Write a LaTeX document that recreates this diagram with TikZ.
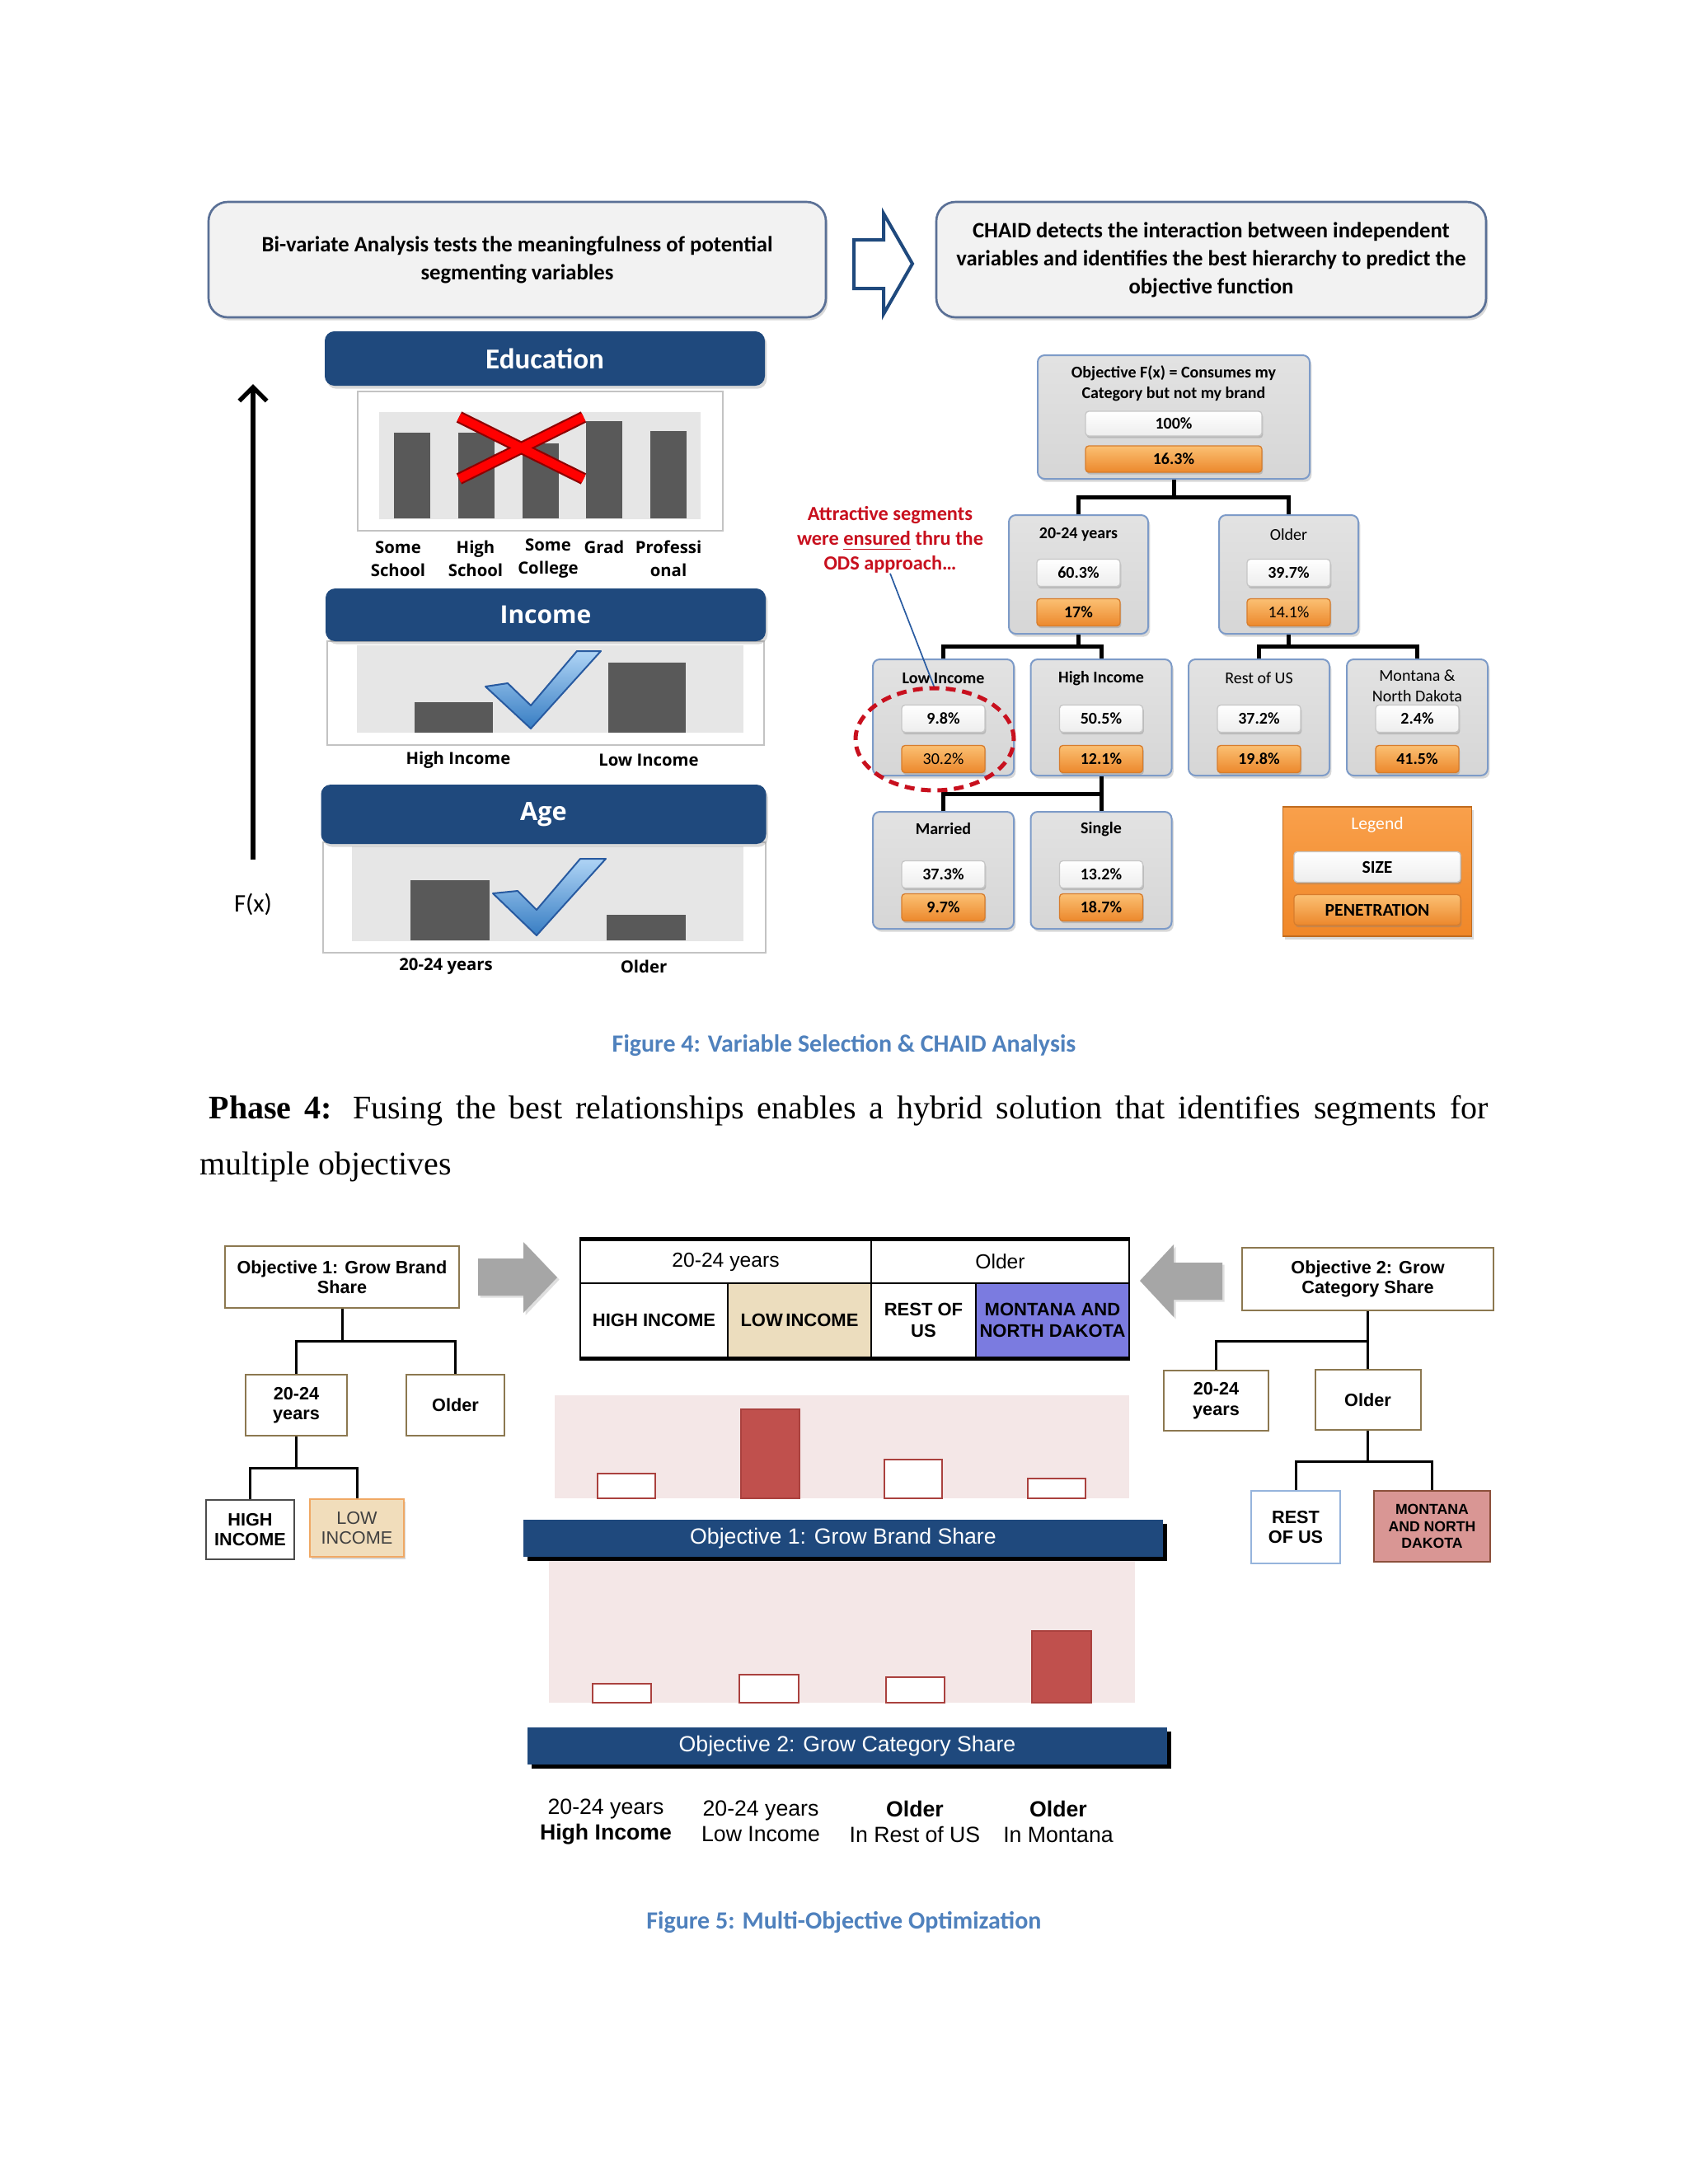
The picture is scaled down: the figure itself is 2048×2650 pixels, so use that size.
\documentclass[tikz,border=0pt]{standalone}
\usepackage{fontspec}
\setmainfont{Liberation Serif}
\newfontfamily\calibri{Carlito}
\newfontfamily\arialf{Liberation Sans}
\newfontfamily\osans{Open Sans}
\usetikzlibrary{shadows,arrows.meta,calc}
\definecolor{boxbg}{RGB}{242,242,242}
\definecolor{boxbd}{RGB}{90,112,150}
\definecolor{hdrblue}{RGB}{31,73,125}
\definecolor{barg}{RGB}{89,89,89}
\definecolor{chartbg}{RGB}{230,230,230}
\definecolor{framegray}{RGB}{195,195,195}
\definecolor{tgray}{RGB}{214,214,214}
\definecolor{tbd}{RGB}{125,155,200}
\definecolor{orl}{RGB}{251,192,115}
\definecolor{ord}{RGB}{236,136,44}
\definecolor{orbd}{RGB}{215,125,45}
\definecolor{legl}{RGB}{249,160,75}
\definecolor{legd}{RGB}{240,135,40}
\definecolor{annred}{RGB}{200,16,30}
\definecolor{capblue}{RGB}{79,129,189}
\definecolor{tanfill}{RGB}{236,221,190}
\definecolor{purp}{RGB}{123,123,224}
\definecolor{lowfill}{RGB}{241,221,187}
\definecolor{lowbd}{RGB}{240,168,100}
\definecolor{mtfill}{RGB}{217,150,148}
\definecolor{mtbd}{RGB}{140,80,60}
\definecolor{restbd}{RGB}{150,180,220}
\definecolor{objbd}{RGB}{140,120,80}
\definecolor{pinkbg}{RGB}{244,231,231}
\definecolor{redbar}{RGB}{192,80,77}
\definecolor{redbd}{RGB}{170,65,62}
\definecolor{arrgray}{RGB}{166,166,166}
\definecolor{chkl}{RGB}{175,212,245}
\definecolor{chkd}{RGB}{55,125,195}
\definecolor{chkbd}{RGB}{40,90,160}
\begin{document}
\begin{tikzpicture}[x=0.3pt,y=-0.3pt,
  sz/.style 2 args={minimum width=#1*0.3pt,minimum height=#2*0.3pt},
  softshadow/.style={drop shadow={shadow xshift=0.7pt,shadow yshift=-1.1pt,opacity=0.3}},
  topbox/.style={rounded corners=7pt,draw=boxbd,line width=0.8pt,fill=boxbg,align=center,inner sep=0pt,
    font=\calibri\bfseries\fontsize{8}{10.2}\selectfont,softshadow},
  hdr/.style={rounded corners=3.5pt,fill=hdrblue,text=white,inner sep=0pt,softshadow},
  lab/.style={font=\osans\bfseries\fontsize{6.1}{8.4}\selectfont,align=center,inner sep=0pt},
  tbox/.style={rounded corners=2.5pt,draw=tbd,line width=0.6pt,top color=tgray!70!white,bottom color=tgray,inner sep=0pt,softshadow},
  ttl/.style={font=\calibri\bfseries\fontsize{6}{7.5}\selectfont,align=center,inner sep=0pt},
  pillw/.style={rounded corners=1.2pt,draw=gray!45,top color=white,bottom color=gray!14,inner sep=0pt,
    font=\calibri\bfseries\fontsize{6}{7}\selectfont,drop shadow={shadow xshift=0.4pt,shadow yshift=-0.8pt,opacity=0.35}},
  pillo/.style={rounded corners=1.2pt,draw=orbd,top color=orl,bottom color=ord,inner sep=0pt,
    font=\calibri\bfseries\fontsize{6}{7}\selectfont,drop shadow={shadow xshift=0.4pt,shadow yshift=-0.8pt,opacity=0.35}},
  tline/.style={line width=1.5pt,black},
  bline/.style={line width=0.9pt,black},
  obox/.style={draw=objbd,line width=0.6pt,fill=white,align=center,inner sep=0pt,font=\arialf\bfseries\fontsize{6.5}{7.3}\selectfont},
  banner/.style={fill=hdrblue,text=white,inner sep=0pt,font=\arialf\fontsize{8}{9}\selectfont,
    drop shadow={shadow xshift=1.5pt,shadow yshift=-1.5pt,opacity=1,fill=black}},
  cell/.style={draw=black,line width=0.8pt,inner sep=0pt,align=center,font=\arialf\bfseries\fontsize{6.6}{7.6}\selectfont},
  clab/.style={font=\arialf\fontsize{8}{9.3}\selectfont,align=center,inner sep=0pt},
  figcap/.style={font=\calibri\bfseries\fontsize{9}{11}\selectfont,text=capblue,inner sep=0pt}]
\useasboundingbox (0,0) rectangle (2048,2650);
\fill[white] (0,0) rectangle (2048,2650);

% ---------------- Figure 4: top boxes ----------------
\node[topbox,sz={749}{140}] (bivar) at (627.5,315) {Bi-variate Analysis tests the meaningfulness of potential\\segmenting variables};
\node[topbox,sz={667}{140}] (chaid) at (1469.5,315) {CHAID detects the interaction between independent\\variables and identifies the best hierarchy to predict the\\objective function};
\draw[line width=1.2pt,draw=hdrblue,fill=white,line join=miter]
  (1036,291) -- (1072,291) -- (1072,259) -- (1107,320) -- (1072,381) -- (1072,350) -- (1036,350) -- cycle;

% ---------------- F(x) axis ----------------
\coordinate (axbot) at (307,1043);
\coordinate (axtop) at (307,466);
\draw[line width=1.6pt,-{Straight Barb[length=5pt,width=10pt]}] (axbot) -- (axtop);
\node[font=\calibri\fontsize{9.2}{11}\selectfont,inner sep=0pt] (fx) at (307,1097) {F(x)};

% ---------------- Education ----------------
\draw[framegray,fill=white,line width=0.5pt] (434,475) rectangle (877,644);
\fill[chartbg] (460,500) rectangle (850,630);
\foreach \cx/\ty in {500/525,578/525,656/538,733/511,811/523}
  \fill[barg] (\cx-22,\ty) rectangle (\cx+22,629);
\draw[line width=4.4pt,red!55!black] (557,506) -- (708,581) (557,581) -- (708,506);
\draw[line width=3.1pt,red] (557,506) -- (708,581) (557,581) -- (708,506);
\node[hdr,sz={534}{66},font=\calibri\bfseries\fontsize{10.5}{12}\selectfont] (edu) at (661,435) {Education};
\node[lab] (e1) at (483,678) {Some\\School};
\node[lab] (e2) at (577,678) {High\\School};
\node[lab] (e3) at (665,678) {Some\\College};
\node[lab] (e4) at (733,664) {Grad};
\node[lab] (e5) at (811,678) {Professi\\onal};

% ---------------- Income ----------------
\draw[framegray,fill=white,line width=0.5pt] (397,778) rectangle (927,904);
\fill[chartbg] (433,783) rectangle (902,889);
\fill[barg] (503,852) rectangle (598,889);
\fill[barg] (738,804) rectangle (832,889);
\draw[top color=chkl,bottom color=chkd,draw=chkbd,line width=0.6pt,line join=round]
  (589,833) -- (616,829) -- (644,856) -- (700,790) -- (729,790) -- (644,884) -- cycle;
\node[hdr,sz={534}{64},font=\osans\bfseries\fontsize{9}{11}\selectfont] (inc) at (662,746) {Income};
\node[lab] (i1) at (556,922) {High Income};
\node[lab] (i2) at (787,922) {Low Income};

% ---------------- Age ----------------
\draw[framegray,fill=white,line width=0.5pt] (392,1022) rectangle (929,1156);
\fill[chartbg] (427,1027) rectangle (902,1142);
\fill[barg] (498,1068) rectangle (594,1141);
\fill[barg] (736,1110) rectangle (832,1141);
\draw[top color=chkl,bottom color=chkd,draw=chkbd,line width=0.6pt,line join=round]
  (598,1084) -- (628,1081) -- (651,1104) -- (704,1042) -- (735,1042) -- (651,1135) -- cycle;
\node[hdr,sz={540}{72},font=\osans\bfseries\fontsize{9.2}{11}\selectfont] (age) at (659.5,988) {Age};
\node[lab] (a1) at (541,1173) {20-24 years};
\node[lab] (a2) at (781,1173) {Older};

% ---------------- CHAID tree ----------------
\node[tbox,sz={330}{150}] (root) at (1424,506) {};
\node[ttl] (rootT) at (1424,465) {Objective F(x) = Consumes my\\Category but not my brand};
\node[pillw,sz={214}{30}] (rootS) at (1424,514) {100\%};
\node[pillo,sz={214}{32}] (rootP) at (1424,557) {16.3\%};

\node[tbox,sz={169}{144}] (yng) at (1308.5,697) {};
\node[ttl] (yngT) at (1308.5,649) {20-24 years};
\node[pillw,sz={101}{33}] (yngS) at (1308.5,695) {60.3\%};
\node[pillo,sz={101}{33}] (yngP) at (1308.5,743) {17\%};

\node[tbox,sz={169}{144}] (old) at (1563.5,697) {};
\node[ttl,font=\calibri\fontsize{6}{7.5}\selectfont] (oldT) at (1563.5,649) {Older};
\node[pillw,sz={101}{33}] (oldS) at (1563.5,695) {39.7\%};
\node[pillo,sz={101}{33},font=\calibri\fontsize{6}{7}\selectfont] (oldP) at (1563.5,743) {14.1\%};

\node[tbox,sz={171}{141}] (lowinc) at (1144.5,870.5) {};
\node[ttl] (lowincT) at (1144.5,823) {Low Income};
\node[pillw,sz={101}{33}] (lowincS) at (1144.5,872) {9.8\%};
\node[pillo,sz={101}{33},font=\calibri\fontsize{6}{7}\selectfont] (lowincP) at (1144.5,921) {30.2\%};

\node[tbox,sz={171}{141}] (hiinc) at (1336,870.5) {};
\node[ttl] (hiincT) at (1336,823) {High Income};
\node[pillw,sz={101}{33}] (hiincS) at (1336,872) {50.5\%};
\node[pillo,sz={101}{33}] (hiincP) at (1336,921) {12.1\%};

\node[tbox,sz={171}{141}] (rest) at (1527.5,870.5) {};
\node[ttl,font=\calibri\fontsize{6}{7.5}\selectfont] (restT) at (1527.5,823) {Rest of US};
\node[pillw,sz={101}{33}] (restS) at (1527.5,872) {37.2\%};
\node[pillo,sz={101}{33}] (restP) at (1527.5,921) {19.8\%};

\node[tbox,sz={171}{141}] (mont) at (1719.5,870.5) {};
\node[ttl,font=\calibri\fontsize{6}{7.4}\selectfont] (montT) at (1719.5,832) {Montana \&\\North Dakota};
\node[pillw,sz={101}{33}] (montS) at (1719.5,872) {2.4\%};
\node[pillo,sz={101}{33}] (montP) at (1719.5,921) {41.5\%};

\node[tbox,sz={171}{142}] (married) at (1144.5,1056) {};
\node[ttl] (marriedT) at (1144.5,1006) {Married};
\node[pillw,sz={101}{33}] (marriedS) at (1144.5,1061) {37.3\%};
\node[pillo,sz={101}{33}] (marriedP) at (1144.5,1101) {9.7\%};

\node[tbox,sz={171}{142}] (single) at (1336,1056) {};
\node[ttl] (singleT) at (1336,1006) {Single};
\node[pillw,sz={101}{33}] (singleS) at (1336,1061) {13.2\%};
\node[pillo,sz={101}{33}] (singleP) at (1336,1101) {18.7\%};

\node[draw=legd!80!black,line width=0.4pt,top color=legl,bottom color=legd,sz={229}{157},inner sep=0pt,softshadow] (legend) at (1671,1057.5) {};
\node[font=\calibri\fontsize{6.5}{8}\selectfont,text=white,inner sep=0pt] (legendT) at (1671,1001) {Legend};
\node[pillw,sz={202}{37},font=\calibri\bfseries\fontsize{6.5}{7.5}\selectfont] (legS) at (1671,1052) {SIZE};
\node[pillo,sz={202}{37},font=\calibri\bfseries\fontsize{6.5}{7.5}\selectfont] (legP) at (1671,1104) {PENETRATION};

\coordinate (j1) at (1424,603);
\draw[tline] (root.south) -- (j1);
\draw[tline] (yng.north) |- (j1) -| (old.north);
\coordinate (j2) at (1308.5,784);
\draw[tline] (yng.south) -- (j2);
\draw[tline] (lowinc.north) |- (j2) -| (hiinc.north);
\coordinate (j3) at (1563.5,784);
\draw[tline] (old.south) -- (j3);
\draw[tline] (rest.north) |- (j3) -| (mont.north);
\coordinate (j4) at (1336,963);
\draw[tline] (hiinc.south) -- (j4);
\draw[tline] (married.north) |- (j4) -- (single.north);

% annotation
\node[font=\calibri\bfseries\fontsize{7.3}{8.9}\selectfont,text=annred,align=center,inner sep=0pt] (ann) at (1080,655)
  {Attractive segments\\were \underline{ensured} thru the\\ODS approach\ldots};
\coordinate (anntip) at (1134,835);
\draw[line width=0.5pt,chkbd] (ann.south) -- (anntip);
\draw[annred,line width=1.5pt,dash pattern=on 3.6pt off 2.4pt] (1134,897) ellipse [x radius=28.8pt,y radius=18.6pt];

\node[figcap] (cap4) at (1024,1268) {Figure 4: Variable Selection \& CHAID Analysis};

% ---------------- paragraph ----------------
\node[anchor=base west,inner sep=0pt,font=\fontsize{12}{14}\selectfont] (para1) at (253,1357)
  {\makebox[465.6pt][s]{\textbf{Phase 4:} Fusing the best relationships enables a hybrid solution that identifies segments for}};
\node[anchor=base west,inner sep=0pt,font=\fontsize{12}{14}\selectfont] (para2) at (242,1425) {multiple objectives};

% ---------------- Figure 5 ----------------
% left tree
\node[obox,sz={284}{75}] (obj1) at (415,1549.5) {Objective 1: Grow Brand\\Share};
\node[obox,sz={123}{74}] (o1age) at (359.5,1705) {20-24\\years};
\node[obox,sz={119}{74}] (o1old) at (552.5,1705) {Older};
\node[obox,draw=black!70,sz={107}{72}] (o1hi) at (303.5,1856) {HIGH\\INCOME};
\node[obox,draw=lowbd,fill=lowfill,sz={114}{70},font=\arialf\fontsize{6.5}{7.3}\selectfont,text=black!75,
  drop shadow={shadow xshift=0.6pt,shadow yshift=-1pt,opacity=0.3}] (o1lo) at (433,1854) {LOW\\INCOME};
\coordinate (k1) at (415,1627);
\draw[bline] (obj1.south) -- (k1);
\draw[bline] (o1age.north) |- (k1) -| (o1old.north);
\coordinate (k2) at (359.5,1781);
\draw[bline] (o1age.south) -- (k2);
\draw[bline] (o1hi.north) |- (k2) -| (o1lo.north);

% right tree
\node[obox,sz={305}{76}] (obj2) at (1659.5,1552) {Objective 2: Grow\\Category Share};
\node[obox,sz={127}{73}] (o2age) at (1475.5,1699.5) {20-24\\years};
\node[obox,sz={128}{73}] (o2old) at (1659.5,1698.5) {Older};
\node[obox,draw=restbd,sz={108}{88}] (o2rest) at (1572,1853) {REST\\OF US};
\node[obox,draw=mtbd,fill=mtfill,sz={141}{86},font=\arialf\bfseries\fontsize{5.3}{6.1}\selectfont] (o2mt) at (1737.5,1852) {MONTANA\\AND NORTH\\DAKOTA};
\coordinate (k3) at (1659.5,1627);
\draw[bline] (obj2.south) -- (o2old.north);
\draw[bline] (o2age.north) |- (k3);
\coordinate (k4) at (1659.5,1773);
\draw[bline] (o2old.south) -- (k4);
\draw[bline] (o2rest.north) |- (k4) -| (o2mt.north);

% gray arrows
\fill[arrgray,drop shadow={shadow xshift=0.8pt,shadow yshift=-0.8pt,opacity=0.25}]
  (580,1527) -- (635,1527) -- (635,1507) -- (676,1550) -- (635,1593) -- (635,1572) -- (580,1572) -- cycle;
\fill[arrgray,drop shadow={shadow xshift=0.8pt,shadow yshift=-0.8pt,opacity=0.25}]
  (1483,1532) -- (1424,1532) -- (1424,1510) -- (1383,1554) -- (1424,1598) -- (1424,1577) -- (1483,1577) -- cycle;

% table
\node[cell,sz={353}{52},font=\arialf\fontsize{7.4}{8.4}\selectfont] (th1) at (880.5,1531) {20-24 years};
\node[cell,sz={313}{52},font=\arialf\fontsize{7.4}{8.4}\selectfont] (th2) at (1213.5,1531) {Older};
\node[cell,sz={179}{90}] (c1) at (793.5,1602) {HIGH INCOME};
\node[cell,sz={174}{90},fill=tanfill] (c2) at (970,1602) {LOW\,INCOME};
\node[cell,sz={127}{90}] (c3) at (1120.5,1602) {REST OF\\US};
\node[cell,sz={186}{90},fill=purp] (c4) at (1277,1602) {MONTANA AND\\NORTH DAKOTA};
\draw[line width=1.6pt] (th1.north west) -- (th2.north east);
\draw[line width=1.6pt] (c1.south west) -- (c4.south east);

% chart 1
\fill[pinkbg] (673,1693) rectangle (1370,1818);
\draw[redbd,fill=white,line width=0.6pt] (725,1788) rectangle (795,1818);
\draw[redbd,fill=redbar,line width=0.6pt] (899,1710) rectangle (970,1818);
\draw[redbd,fill=white,line width=0.6pt] (1073,1771) rectangle (1143,1818);
\draw[redbd,fill=white,line width=0.6pt] (1247,1794) rectangle (1317,1818);
\node[banner,sz={776}{45}] (ban1) at (1023,1866.5) {Objective 1: Grow Brand Share};

% chart 2
\fill[pinkbg] (666,1894) rectangle (1377,2066);
\draw[redbd,fill=white,line width=0.6pt] (719,2043) rectangle (790,2066);
\draw[redbd,fill=white,line width=0.6pt] (897,2032) rectangle (969,2066);
\draw[redbd,fill=white,line width=0.6pt] (1075,2035) rectangle (1146,2066);
\draw[redbd,fill=redbar,line width=0.6pt] (1252,1979) rectangle (1324,2066);
\node[banner,sz={776}{45}] (ban2) at (1028,2118.5) {Objective 2: Grow Category Share};

\node[clab] (cl1) at (735,2210) {20-24 years\\\textbf{High Income}};
\node[clab] (cl2) at (923,2210) {20-24 years\\Low Income};
\node[clab] (cl3) at (1110,2210) {\textbf{Older}\\In Rest of US};
\node[clab] (cl4) at (1284,2210) {\textbf{Older}\\In Montana};

\node[figcap] (cap5) at (1024,2332) {Figure 5: Multi-Objective Optimization};
\end{tikzpicture}
\end{document}
